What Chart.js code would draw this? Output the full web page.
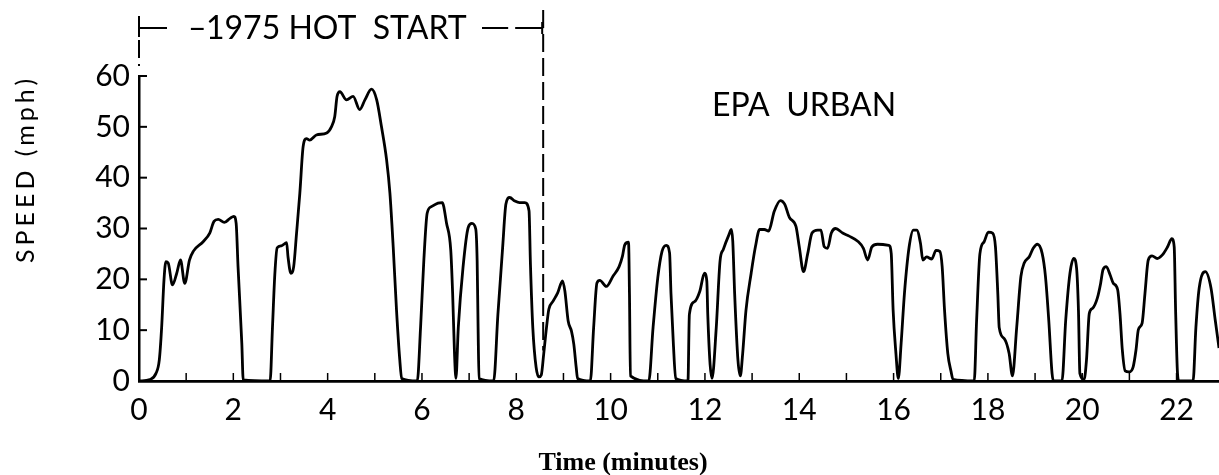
<!DOCTYPE html>
<html>
<head>
<meta charset="utf-8">
<script src="https://cdn.jsdelivr.net/npm/chart.js@4.4.0/dist/chart.umd.min.js"></script>
<style>
  html, body { margin: 0; padding: 0; background: #fff; }
  #wrap { width: 1219px; height: 475px; }
</style>
</head>
<body>
<div id="wrap"><canvas id="speedChart" width="1219" height="475"></canvas></div>
<script>
// EPA urban driving trace
// time in minutes, speed in mph
const timeMin = [
  0.00, 0.23, 0.36, 0.43, 0.48, 0.53, 0.57, 0.62, 0.71, 0.80, 0.88, 0.97, 1.07, 1.15, 1.36, 1.50, 1.59, 1.68, 1.81, 1.93,
  2.01, 2.06, 2.10, 2.18, 2.21, 2.78, 2.83, 2.88, 2.93, 3.02, 3.13, 3.16, 3.22, 3.28, 3.34, 3.41, 3.48, 3.55, 3.62, 3.76,
  3.98, 4.08, 4.15, 4.20, 4.26, 4.40, 4.54, 4.68, 4.79, 4.93, 5.04, 5.14, 5.25, 5.32, 5.39, 5.46, 5.53, 5.57, 5.90, 5.97,
  6.04, 6.11, 6.20, 6.34, 6.43, 6.52, 6.61, 6.65, 6.69, 6.72, 6.77, 6.87, 6.98, 7.06, 7.14, 7.17, 7.19, 7.21, 7.52, 7.61,
  7.71, 7.78, 7.86, 7.97, 8.07, 8.18, 8.27, 8.30, 8.35, 8.42, 8.48, 8.53, 8.58, 8.64, 8.69, 8.78, 8.88, 8.98, 9.03, 9.10,
  9.17, 9.22, 9.27, 9.30, 9.57, 9.64, 9.71, 9.77, 9.91, 10.05, 10.18, 10.25, 10.30, 10.38, 10.40, 10.42, 10.81, 10.90, 11.00, 11.09,
  11.18, 11.25, 11.28, 11.33, 11.38, 11.64, 11.67, 11.78, 11.89, 11.99, 12.04, 12.06, 12.11, 12.15, 12.24, 12.32, 12.39, 12.51, 12.56, 12.59,
  12.63, 12.70, 12.75, 12.80, 12.87, 12.98, 13.07, 13.16, 13.26, 13.35, 13.47, 13.60, 13.69, 13.79, 13.93, 14.00, 14.09, 14.18, 14.27, 14.39,
  14.46, 14.53, 14.60, 14.68, 14.77, 14.92, 15.06, 15.24, 15.36, 15.45, 15.54, 15.66, 15.90, 15.95, 15.99, 16.05, 16.10, 16.16, 16.23, 16.33,
  16.42, 16.49, 16.57, 16.62, 16.70, 16.81, 16.90, 16.98, 17.03, 17.08, 17.15, 17.22, 17.26, 17.71, 17.76, 17.83, 17.92, 18.01, 18.10, 18.16,
  18.21, 18.24, 18.35, 18.45, 18.52, 18.61, 18.70, 18.77, 18.88, 18.96, 19.05, 19.15, 19.22, 19.29, 19.36, 19.39, 19.57, 19.65, 19.74, 19.82,
  19.88, 19.92, 19.95, 20.04, 20.09, 20.15, 20.22, 20.32, 20.39, 20.44, 20.51, 20.59, 20.66, 20.75, 20.80, 20.85, 20.91, 20.99, 21.08, 21.14,
  21.19, 21.27, 21.33, 21.40, 21.48, 21.59, 21.70, 21.81, 21.90, 21.95, 21.98, 22.02, 22.05, 22.35, 22.41, 22.48, 22.61, 22.73, 22.82, 22.90
];
const speedMph = [
  0, 0.3, 1.5, 4.1, 10.5, 19.9, 23.5, 23.2, 18.9, 21.2, 23.8, 19.2, 23.8, 25.5, 27.4, 29.1, 31.4, 31.8, 31.2, 32.0,
  32.4, 31.0, 22.5, 7.4, 0.2, 0, 10.5, 21.0, 26.2, 26.6, 27.2, 24.4, 21.2, 22.5, 29.0, 36.9, 46.1, 47.7, 47.4, 48.4,
  48.8, 50.0, 52.0, 56.0, 56.9, 55.3, 56.0, 53.4, 55.3, 57.4, 55.3, 50.1, 43.5, 37.0, 26.4, 14.0, 4.1, 0.5, 0, 10.5,
  23.8, 33.0, 34.3, 35.0, 35.1, 31.1, 25.8, 17.3, 5.4, 0.5, 10.5, 22.3, 30.2, 31.0, 29.9, 23.6, 10.5, 0.5, 0, 13.1,
  26.2, 34.8, 36.1, 35.4, 35.1, 35.1, 33.5, 23.0, 10.5, 2.7, 0.8, 1.2, 5.2, 10.5, 14.1, 15.7, 17.4, 19.7, 17.7, 11.8,
  9.8, 7.2, 2.7, 0.5, 0, 10.5, 19.3, 19.8, 18.6, 20.6, 22.5, 24.5, 26.8, 27.3, 17.0, 1.0, 0, 10.5, 20.3, 25.5,
  26.7, 25.2, 17.2, 7.4, 0.5, 0, 13.1, 15.6, 17.6, 21.2, 19.6, 13.1, 3.2, 0.5, 10.5, 23.6, 25.9, 28.8, 29.8, 27.5,
  17.2, 4.1, 1.0, 5.4, 13.9, 21.2, 26.4, 29.8, 29.8, 29.5, 33.4, 35.5, 34.8, 32.2, 30.4, 26.4, 21.5, 25.1, 29.1, 29.7,
  29.7, 26.4, 26.1, 29.1, 30.0, 29.1, 28.5, 27.5, 26.1, 23.8, 26.4, 26.9, 26.7, 25.1, 14.0, 5.4, 0.5, 7.4, 17.2, 26.4,
  29.7, 29.7, 27.1, 23.8, 24.4, 24.0, 25.7, 25.5, 22.5, 14.0, 5.4, 1.8, 0.3, 0, 11.8, 25.0, 27.4, 29.3, 29.1, 26.4,
  17.2, 10.5, 8.3, 5.4, 1.0, 10.5, 20.6, 23.2, 24.5, 26.1, 26.9, 25.1, 20.6, 12.0, 1.5, 0, 0, 12.0, 21.2, 24.1,
  22.2, 13.9, 1.5, 0.3, 4.1, 13.3, 14.3, 16.3, 19.2, 21.9, 22.5, 20.9, 19.2, 18.0, 13.3, 6.1, 2.0, 1.8, 2.8, 6.1,
  10.1, 11.4, 17.2, 23.8, 24.6, 24.1, 24.8, 26.4, 28.0, 26.4, 13.9, 1.5, 0, 0, 10.5, 18.3, 21.5, 18.3, 12.0, 6.5
];

const xTickValues = [0, 2, 4, 6, 8, 10, 12, 14, 16, 18, 20, 22];
const yTickValues = [0, 10, 20, 30, 40, 50, 60];
const hotStartEnd = 8.57;   // end of the 1975 hot start segment, minutes

const points = timeMin.map((t, i) => ({ x: t, y: speedMph[i] }));

const letterFont = "Lato, 'DejaVu Sans', sans-serif";

// draws the hand-lettered parts: inward ticks, dashed markers, labels
const annotations = {
  id: "annotations",
  afterDraw(chart) {
    const { ctx, chartArea } = chart;
    const xs = chart.scales.x, ys = chart.scales.y;
    const line = (x1, y1, x2, y2) => {
      ctx.beginPath(); ctx.moveTo(x1, y1); ctx.lineTo(x2, y2); ctx.stroke();
    };
    ctx.save();
    ctx.strokeStyle = "#000";
    ctx.fillStyle = "#000";

    // speed ticks point into the plot
    ctx.lineWidth = 2;
    yTickValues.forEach(v => {
      if (v === 0) return;
      const py = ys.getPixelForValue(v);
      line(chartArea.left, py, chartArea.left + 8, py);
    });

    // one small tick every minute
    ctx.lineWidth = 1.5;
    for (let m = 1; m <= 22; m++) {
      const px = xs.getPixelForValue(m);
      line(px, chartArea.bottom, px, chartArea.bottom - 8);
    }

    // dashed markers
    const x0 = xs.getPixelForValue(0);
    const x1 = xs.getPixelForValue(hotStartEnd);
    ctx.lineWidth = 2;
    ctx.setLineDash([18, 6]);
    line(x0, 16, x0, 66);
    line(x1, 10, x1, ys.getPixelForValue(6));
    ctx.setLineDash([]);

    // 1975 hot start bracket
    const by = 28;
    line(x0, by - 9, x0, by + 9);
    line(x1 - 1, by - 6, x1 - 1, by + 6);
    ctx.setLineDash([28, 7]);
    line(x0, by, x0 + 32, by);
    line(x1, by, 482, by);
    ctx.setLineDash([]);
    ctx.font = "32px " + letterFont;
    ctx.textBaseline = "alphabetic";
    ctx.textAlign = "left";
    ctx.fillText("\u2013", 188, 39);
    ctx.fillText("1975 HOT  START", 206, 39);

    ctx.fillText("EPA  URBAN", 712, 116);

    // y axis title
    ctx.save();
    ctx.translate(26, 169);
    ctx.rotate(-Math.PI / 2);
    ctx.textAlign = "center";
    ctx.textBaseline = "middle";
    ctx.font = "25px " + letterFont;
    ctx.letterSpacing = "4px";
    ctx.fillText("SPEED (mph)", 0, 0);
    ctx.restore();

    // x axis title
    ctx.font = "bold 26px 'Liberation Serif', 'Times New Roman', serif";
    ctx.textAlign = "center";
    ctx.fillText("Time (minutes)", 623, 470);

    ctx.restore();
  }
};

new Chart(document.getElementById("speedChart"), {
  type: "scatter",
  data: {
    datasets: [{
      data: points,
      showLine: true,
      borderColor: "#000",
      borderWidth: 2.8,
      pointRadius: 0,
      cubicInterpolationMode: "monotone",
      fill: false
    }]
  },
  options: {
    responsive: false,
    animation: false,
    devicePixelRatio: 1,
    layout: { padding: { top: 76, right: 0, left: 0, bottom: 0 } },
    plugins: { legend: { display: false }, tooltip: { enabled: false } },
    scales: {
      x: {
        type: "linear",
        min: 0,
        max: 22.9,
        afterFit: s => { s.height = 94; },
        afterBuildTicks: s => { s.ticks = xTickValues.map(v => ({ value: v })); },
        grid: { display: false, drawTicks: false },
        border: { display: true, color: "#000", width: 2.8 },
        ticks: { color: "#000", padding: 11, maxRotation: 0, font: { family: letterFont, size: 30 } }
      },
      y: {
        min: 0,
        max: 60,
        afterFit: s => { s.width = 139; },
        afterBuildTicks: s => { s.ticks = yTickValues.map(v => ({ value: v })); },
        grid: { display: false, drawTicks: false },
        border: { display: true, color: "#000", width: 2.5 },
        ticks: { color: "#000", padding: 9, font: { family: letterFont, size: 30 } }
      }
    }
  },
  plugins: [annotations]
});
</script>
</body>
</html>
